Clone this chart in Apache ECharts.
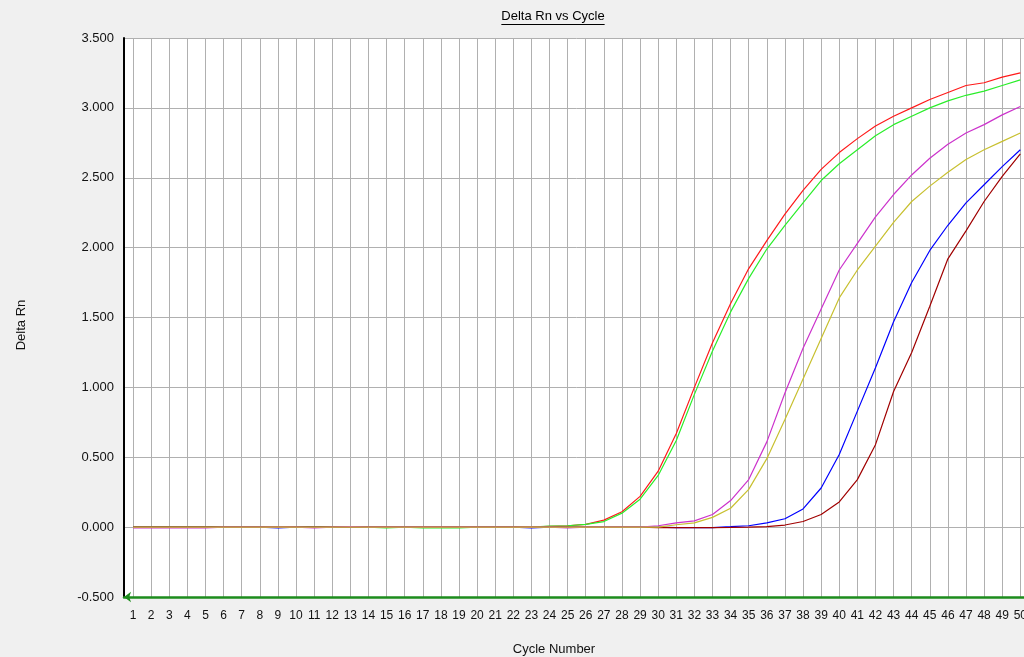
<!DOCTYPE html>
<html><head><meta charset="utf-8">
<script src="https://cdn.jsdelivr.net/npm/echarts@6/dist/echarts.min.js"></script>
<style>html,body{margin:0;padding:0;background:#f0f0f0;overflow:hidden;width:1024px;height:657px}#c{width:1030px;height:657px}</style>
</head><body><div id="c"></div>
<script>
const cycles = ['1','2','3','4','5','6','7','8','9','10','11','12','13','14','15','16','17','18','19','20','21','22','23','24','25','26','27','28','29','30','31','32','33','34','35','36','37','38','39','40','41','42','43','44','45','46','47','48','49','50'];

const redVals = [0,0,0,0,0, 0,0,0,0,0, 0,0,0,0,0, 0,0,0,0,0, 0,0,0,0.005,0.01, 0.02,0.05,0.11,0.22,0.40, 0.67,1.00,1.32,1.60,1.85, 2.05,2.24,2.41,2.56,2.68, 2.78,2.87,2.94,3.00,3.06, 3.11,3.16,3.18,3.22,3.25];
const greenVals = [0,0,0,0,0, 0,0,0,0,0, 0,0,0,0,-0.006, 0,-0.006,-0.006,-0.006,0, 0,0,0,0.008,0.01, 0.02,0.04,0.10,0.20,0.37, 0.62,0.95,1.26,1.54,1.78, 1.99,2.16,2.32,2.48,2.60, 2.70,2.80,2.88,2.94,3.00, 3.05,3.09,3.12,3.16,3.20];
const blueVals = [0,0,0,0,0, 0,0,0,-0.006,0, 0,0,0,0,0, 0,0,0,0,0, 0,0,-0.006,0,0, 0,0,0,0,0, -0.004,-0.004,-0.003,0.003,0.01, 0.03,0.06,0.13,0.28,0.52, 0.83,1.14,1.47,1.75,1.98, 2.16,2.32,2.45,2.58,2.70];
const maroonVals = [0,0,0,0,0, 0,0,0,0,0, 0,0,0,0,0, 0,0,0,0,0, 0,0,0,0,0, 0,0,0,0,-0.003, -0.003,-0.003,-0.003,-0.002,0, 0.004,0.015,0.04,0.09,0.18, 0.34,0.59,0.97,1.25,1.58, 1.92,2.12,2.33,2.51,2.67];
const magentaVals = [-0.006,-0.006,-0.006,-0.006,-0.006, 0,0,0,0,0, -0.006,0,0.004,0,0, 0,0,0,0,0, 0,0,0,0,-0.006, 0,0,0,0,0.01, 0.03,0.045,0.09,0.19,0.34, 0.61,0.96,1.28,1.56,1.84, 2.03,2.22,2.38,2.52,2.64, 2.74,2.82,2.88,2.95,3.01];
const yellowVals = [0,0,0,0,0, 0,0,0,0,0, 0,0,0,0,0, 0,0,0,0,0, 0,0,0,0,0, 0,0,0,0,0, 0.017,0.03,0.07,0.135,0.27, 0.49,0.77,1.06,1.35,1.64, 1.84,2.01,2.18,2.33,2.44, 2.54,2.63,2.70,2.76,2.82];

const titleText = 'Delta Rn vs Cycle';
const xName = 'Cycle Number';
const yName = 'Delta Rn';

const FONT = '"Liberation Sans", Arial, sans-serif';
const mc = document.createElement('canvas').getContext('2d');
mc.font = '13px "Liberation Sans"';
const tw = mc.measureText(titleText).width;
const tcx = 553;

function line(name, data, color) {
  return {
    name, type: 'line', data, showSymbol: false, symbol: 'none', smooth: false,
    lineStyle: { color, width: 1.2 }, itemStyle: { color }, animation: false
  };
}

const chart = echarts.init(document.getElementById('c'), null, { renderer: 'canvas' });
chart.setOption({
  backgroundColor: '#f0f0f0',
  animation: false,
  textStyle: { fontFamily: FONT },
  grid: { left: 124, top: 38, right: 0, bottom: 60, show: true, backgroundColor: '#ffffff', borderWidth: 0, containLabel: false },
  xAxis: {
    type: 'category', data: cycles, boundaryGap: true,
    axisLine: { show: true, onZero: false, symbol: ['arrow', 'none'], symbolSize: [8, 7], lineStyle: { color: '#1c8c1c', width: 2.5 } },
    axisTick: { show: false },
    axisLabel: { interval: 0, fontSize: 12, color: '#111', margin: 13, fontFamily: FONT },
    splitLine: { show: true, interval: 0, alignWithLabel: true, lineStyle: { color: '#b0b0b0', width: 1 } }
  },
  yAxis: {
    type: 'value', min: -0.5, max: 3.5, interval: 0.5,
    axisLine: { show: true, onZero: false, lineStyle: { color: '#000', width: 2 } },
    axisTick: { show: false },
    axisLabel: { fontSize: 13, color: '#111', margin: 10, fontFamily: FONT, formatter: v => v.toFixed(3) },
    splitLine: { show: true, lineStyle: { color: '#b0b0b0', width: 1 } }
  },
  graphic: [
    { type: 'text', left: tcx - tw / 2, top: 10, style: { text: titleText, font: '13px ' + FONT, fill: '#000' } },
    { type: 'line', shape: { x1: tcx - tw / 2, y1: 24.5, x2: tcx + tw / 2, y2: 24.5 }, style: { stroke: '#000', lineWidth: 1 } },
    { type: 'text', x: 554, y: 649, style: { text: xName, font: '13px ' + FONT, fill: '#111', textAlign: 'center', textVerticalAlign: 'middle' } },
    { type: 'text', x: 21, y: 325, rotation: Math.PI / 2, style: { text: yName, font: '13px ' + FONT, fill: '#111', textAlign: 'center', textVerticalAlign: 'middle' } }
  ],
  series: [
    line('red', redVals, '#ff1a1a'),
    line('green', greenVals, '#2aee2a'),
    line('blue', blueVals, '#0000ff'),
    line('maroon', maroonVals, '#a00000'),
    line('magenta', magentaVals, '#cc33cc'),
    line('yellow', yellowVals, '#c8c030')
  ]
});
</script>
</body></html>
